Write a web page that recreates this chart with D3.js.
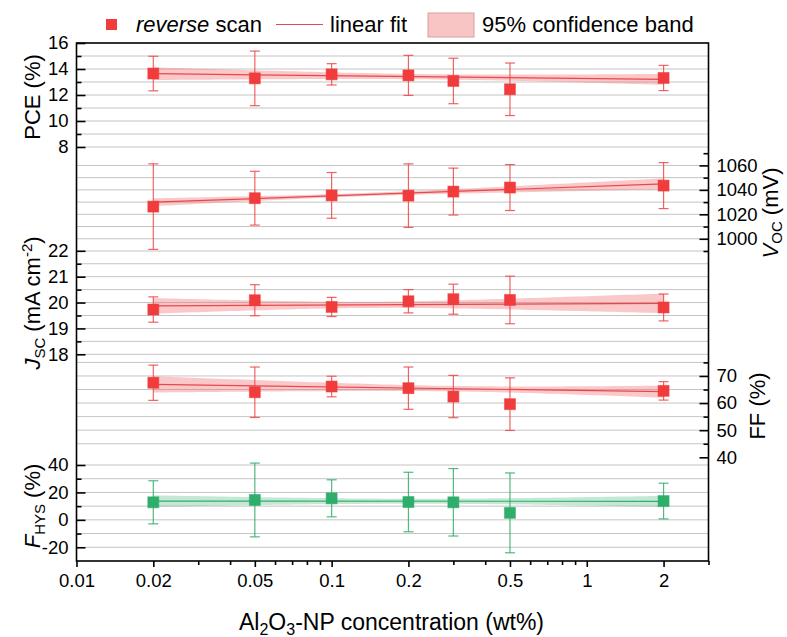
<!DOCTYPE html>
<html><head><meta charset="utf-8">
<script src="https://cdn.jsdelivr.net/npm/d3@7"></script>
<style>
body{margin:0;background:#fff}
svg{display:block}
text{font-family:"Liberation Sans",Arial,sans-serif;fill:#000}
</style>
</head><body>
<svg id="chart" width="787" height="637"></svg>
<script>
// ---------------- data ----------------
const concentration = [0.02, 0.05, 0.1, 0.2, 0.3, 0.5, 2];

const pce     = [13.65, 13.28, 13.59, 13.51, 13.08, 12.44, 13.31];
const pceErr  = [1.33, 2.10, 0.82, 1.54, 1.75, 2.02, 0.97];
const voc     = [1026.3, 1033.2, 1035.5, 1035.3, 1038.6, 1041.9, 1043.5];
const vocErr  = [35.0, 22.0, 18.7, 26.0, 19.2, 18.8, 18.8];
const jsc     = [19.73, 20.09, 19.83, 20.05, 20.13, 20.10, 19.81];
const jscErr  = [0.49, 0.60, 0.37, 0.45, 0.58, 0.92, 0.52];
const ff      = [67.5, 64.0, 66.1, 65.5, 62.4, 59.6, 64.5];
const ffErr   = [6.5, 9.3, 3.8, 7.8, 7.8, 9.7, 3.4];
const fhys    = [12.8, 14.5, 15.7, 13.0, 12.8, 5.1, 13.7];
const fhysErr = [15.7, 26.9, 13.5, 21.7, 24.6, 29.1, 13.0];

// linear fit: value at first and last concentration
const pceFit  = [13.64, 13.20];
const vocFit  = [1029.9, 1044.9];
const jscFit  = [19.87, 19.97];
const ffFit   = [66.9, 64.2];
const fhysFit = [13.7, 13.5];
// 95% band half-width: [at first x, minimum, at last x]
const pceBand  = [0.49, 0.20, 0.42];
const vocBand  = [3.2, 1.3, 4.5];
const jscBand  = [0.30, 0.12, 0.38];
const ffBand   = [3.0, 1.0, 2.2];
const fhysBand = [4.2, 1.8, 4.0];

// ticks
const xTicks      = [0.01, 0.02, 0.05, 0.1, 0.2, 0.5, 1, 2];
const xMinor      = [0.03, 0.04, 0.06, 0.07, 0.08, 0.09, 0.3, 0.4, 0.6, 0.7, 0.8, 0.9, 3];
const pceTicks    = [8, 10, 12, 14, 16];
const pceMinor    = [9, 11, 13, 15];
const pceGrid     = [8, 9, 10, 11, 12, 13, 14, 15];
const vocTicks    = [1000, 1020, 1040, 1060];
const vocMinor    = [990, 1010, 1030, 1050, 1070];
const vocGrid     = [990, 1000, 1010, 1020, 1030, 1040, 1050, 1060];
const jscTicks    = [18, 19, 20, 21, 22];
const jscMinor    = [18.5, 19.5, 20.5, 21.5];
const jscGrid     = [18, 18.5, 19, 19.5, 20, 20.5, 21, 21.5];
const ffTicks     = [40, 50, 60, 70];
const ffMinor     = [45, 55, 65, 75];
const ffGrid      = [45, 50, 55, 60, 65, 70, 75];
const fhysTicks   = [-20, 0, 20, 40];
const fhysMinor   = [-10, 10, 30];
const fhysGrid    = [-20, -10, 0, 10, 20, 30, 40];

// ---------------- layout ----------------
const svg = d3.select("#chart");
const plot = {left: 76.5, right: 708.5, top: 43, bottom: 561};
const x = d3.scaleLog().domain([0.01, 3]).range([plot.left, plot.right]);

const RED = {mark: "#f03c3c", err: "rgba(238,70,70,0.85)", line: "#e9474b", band: "rgba(242,110,110,0.38)"};
const GREEN = {mark: "#2fae6b", err: "rgba(47,174,107,0.85)", line: "#2fae6b", band: "rgba(47,174,107,0.28)"};

const panels = [
  {side: "left",  domain: [8, 16],      range: [147, 43],    v: pce,  e: pceErr,  fit: pceFit,  band: pceBand,  major: pceTicks,  minor: pceMinor,  grid: pceGrid,  c: RED},
  {side: "right", domain: [990, 1070],  range: [251, 153.2], v: voc,  e: vocErr,  fit: vocFit,  band: vocBand,  major: vocTicks,  minor: vocMinor,  grid: vocGrid,  c: RED},
  {side: "left",  domain: [18, 22],     range: [354.3, 250.8], v: jsc, e: jscErr, fit: jscFit,  band: jscBand,  major: jscTicks,  minor: jscMinor,  grid: jscGrid,  c: RED},
  {side: "right", domain: [40, 75],     range: [457.3, 362.4], v: ff,  e: ffErr,  fit: ffFit,   band: ffBand,   major: ffTicks,   minor: ffMinor,   grid: ffGrid,   c: RED},
  {side: "left",  domain: [-30, 40],    range: [561, 465],   v: fhys, e: fhysErr, fit: fhysFit, band: fhysBand, major: fhysTicks, minor: fhysMinor, grid: fhysGrid, c: GREEN}
];
panels.forEach(p => p.y = d3.scaleLinear().domain(p.domain).range(p.range));

// ---------------- grid ----------------
const gGrid = svg.append("g");
panels.forEach(p => {
  gGrid.selectAll(null).data(p.grid).join("line")
    .attr("x1", plot.left).attr("x2", plot.right)
    .attr("y1", d => p.y(d)).attr("y2", d => p.y(d))
    .attr("stroke", "#c4c4c4").attr("stroke-width", 1);
});

// ---------------- bands & fits ----------------
function bandPoints(fit, band) {
  const uL = Math.log10(concentration[0]), uR = Math.log10(concentration[concentration.length - 1]);
  const [hL, a, hR] = band;
  const kL = Math.sqrt(hL * hL - a * a), kR = Math.sqrt(hR * hR - a * a);
  const dL = (uR - uL) * kL / (kL + kR);
  const u0 = uL + dL, b = kL / dL;
  const yAt = u => fit[0] + (fit[1] - fit[0]) * (u - uL) / (uR - uL);
  const hw = u => Math.sqrt(a * a + b * b * (u - u0) * (u - u0));
  return d3.range(0, 81).map(i => {
    const u = uL + (uR - uL) * i / 80;
    return {x: Math.pow(10, u), lo: yAt(u) - hw(u), hi: yAt(u) + hw(u)};
  });
}
const gFit = svg.append("g");
panels.forEach(p => {
  const pts = bandPoints(p.fit, p.band);
  gFit.append("path").datum(pts)
    .attr("d", d3.area().x(d => x(d.x)).y0(d => p.y(d.lo)).y1(d => p.y(d.hi)))
    .attr("fill", p.c.band).attr("stroke", "none");
  const ends = [{x: concentration[0], y: p.fit[0]}, {x: concentration[concentration.length - 1], y: p.fit[1]}];
  gFit.append("path").datum(ends)
    .attr("d", d3.line().x(d => x(d.x)).y(d => p.y(d.y)))
    .attr("fill", "none").attr("stroke", p.c.line).attr("stroke-width", 1.2);
});

// ---------------- error bars & markers ----------------
const gPts = svg.append("g");
const cap = 5, ms = 11;
panels.forEach(p => {
  const d = concentration.map((c, i) => ({x: c, v: p.v[i], e: p.e[i]}));
  const g = gPts.append("g").attr("stroke", p.c.err).attr("stroke-width", 1.2);
  g.selectAll(null).data(d).join("line")
    .attr("x1", q => x(q.x)).attr("x2", q => x(q.x))
    .attr("y1", q => p.y(q.v + q.e)).attr("y2", q => p.y(q.v - q.e));
  g.selectAll(null).data(d).join("line")
    .attr("x1", q => x(q.x) - cap).attr("x2", q => x(q.x) + cap)
    .attr("y1", q => p.y(q.v + q.e)).attr("y2", q => p.y(q.v + q.e));
  g.selectAll(null).data(d).join("line")
    .attr("x1", q => x(q.x) - cap).attr("x2", q => x(q.x) + cap)
    .attr("y1", q => p.y(q.v - q.e)).attr("y2", q => p.y(q.v - q.e));
  gPts.selectAll(null).data(d).join("rect")
    .attr("x", q => x(q.x) - ms / 2).attr("y", q => p.y(q.v) - ms / 2)
    .attr("width", ms).attr("height", ms)
    .attr("fill", p.c.mark).attr("stroke", p.c.mark).attr("stroke-opacity", 0.5).attr("stroke-width", 1);
});

// ---------------- frame ----------------
svg.append("rect")
  .attr("x", plot.left).attr("y", plot.top)
  .attr("width", plot.right - plot.left).attr("height", plot.bottom - plot.top)
  .attr("fill", "none").attr("stroke", "#000").attr("stroke-width", 1.6);

// ---------------- axes ----------------
const fmt = d => String(d);
const TICKFONT = 18.5;
panels.forEach(p => {
  const left = p.side === "left";
  const mk = left ? d3.axisLeft : d3.axisRight;
  const gx = left ? plot.left : plot.right;
  const gMaj = svg.append("g").attr("transform", `translate(${gx},0)`)
    .call(mk(p.y).tickValues(p.major).tickSize(-9).tickPadding(8).tickFormat(fmt));
  const gMin = svg.append("g").attr("transform", `translate(${gx},0)`)
    .call(mk(p.y).tickValues(p.minor).tickSize(-5).tickFormat(""));
  [gMaj, gMin].forEach(g => {
    g.select(".domain").remove();
    g.selectAll("line").attr("stroke", "#000").attr("stroke-width", 1.6);
  });
  gMaj.selectAll("text").attr("font-size", TICKFONT).attr("font-family", "Liberation Sans, Arial, sans-serif").attr("fill", "#000");
});

const gxMaj = svg.append("g").attr("transform", `translate(0,${plot.bottom})`)
  .call(d3.axisBottom(x).tickValues(xTicks).tickSize(6).tickPadding(7).tickFormat(fmt));
const gxMin = svg.append("g").attr("transform", `translate(0,${plot.bottom})`)
  .call(d3.axisBottom(x).tickValues(xMinor).tickSize(4).tickFormat(""));
[gxMaj, gxMin].forEach(g => {
  g.select(".domain").remove();
  g.selectAll("line").attr("stroke", "#000").attr("stroke-width", 1.6);
});
gxMaj.selectAll("text").attr("font-size", TICKFONT).attr("font-family", "Liberation Sans, Arial, sans-serif").attr("fill", "#000");

// ---------------- axis titles ----------------
const TF = 22, SUB = 15;
function vTitle(cx, cy, build) {
  const t = svg.append("text")
    .attr("transform", `translate(${cx},${cy}) rotate(-90)`)
    .attr("text-anchor", "middle").attr("font-size", TF);
  build(t);
}
vTitle(40, 97, t => t.text("PCE (%)"));
vTitle(40, 303, t => {
  t.append("tspan").attr("font-style", "italic").text("J");
  t.append("tspan").attr("font-size", SUB).attr("dy", 5).text("SC");
  t.append("tspan").attr("dy", -5).text(" (mA cm");
  t.append("tspan").attr("font-size", SUB).attr("dy", -8).text("-2");
  t.append("tspan").attr("dy", 8).text(")");
});
vTitle(40, 506, t => {
  t.append("tspan").attr("font-style", "italic").text("F");
  t.append("tspan").attr("font-size", SUB).attr("dy", 5).text("HYS");
  t.append("tspan").attr("dy", -5).text(" (%)");
});
vTitle(778, 213, t => {
  t.append("tspan").attr("font-style", "italic").text("V");
  t.append("tspan").attr("font-size", SUB).attr("dy", 4).text("OC");
  t.append("tspan").attr("dy", -4).text(" (mV)");
});
vTitle(765, 406, t => t.text("FF (%)"));

const xt = svg.append("text").attr("x", (plot.left + plot.right) / 2 - 1).attr("y", 630)
  .attr("text-anchor", "middle").attr("font-size", 23);
xt.append("tspan").text("Al");
xt.append("tspan").attr("font-size", 16).attr("dy", 5).text("2");
xt.append("tspan").attr("dy", -5).text("O");
xt.append("tspan").attr("font-size", 16).attr("dy", 5).text("3");
xt.append("tspan").attr("dy", -5).text("-NP concentration (wt%)");

// ---------------- legend ----------------
const LF = 22;
const lg = svg.append("g");
lg.append("rect").attr("x", 106).attr("y", 19).attr("width", 11).attr("height", 11).attr("fill", RED.mark);
const lt1 = lg.append("text").attr("x", 136).attr("y", 32).attr("font-size", LF);
lt1.append("tspan").attr("font-style", "italic").text("reverse");
lt1.append("tspan").text(" scan");
lg.append("line").attr("x1", 276).attr("x2", 323).attr("y1", 24.5).attr("y2", 24.5).attr("stroke", RED.line).attr("stroke-width", 1.2);
lg.append("text").attr("x", 330).attr("y", 32).attr("font-size", LF).text("linear fit");
lg.append("rect").attr("x", 428).attr("y", 13).attr("width", 46).attr("height", 24)
  .attr("fill", "#f8c4c4").attr("stroke", "#d9a0a0").attr("stroke-width", 1);
lg.append("text").attr("x", 482).attr("y", 32).attr("font-size", LF).text("95% confidence band");
</script>
</body></html>
